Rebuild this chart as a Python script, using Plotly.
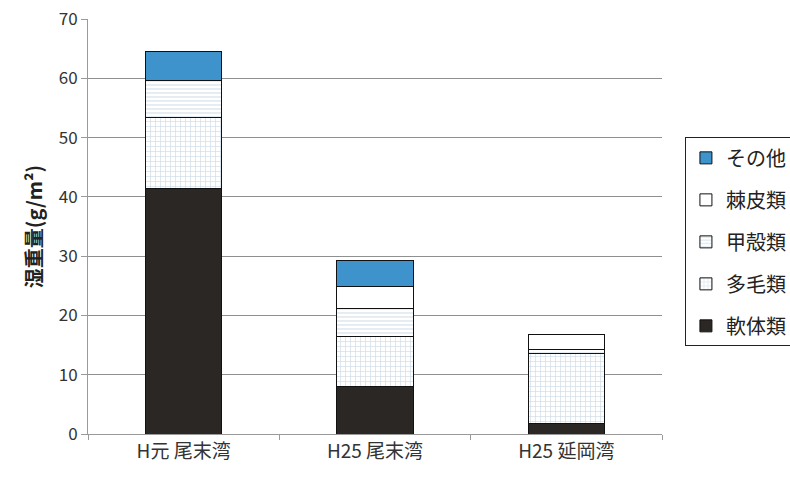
import plotly.graph_objects as go

# Sampling sites
sites = ["H元 尾末湾", "H25 尾末湾", "H25 延岡湾"]

# Wet weight by taxon (g/m²), stacked bottom to top
mollusca = [41.4, 8.0, 1.8]      # 軟体類
polychaeta = [12.0, 8.4, 11.7]   # 多毛類
crustacea = [6.3, 4.8, 0.8]      # 甲殻類
echinoderm = [0.0, 3.6, 2.4]     # 棘皮類
others = [4.9, 4.4, 0.0]         # その他

series = [
    ("軟体類", mollusca, dict(color="#2b2724")),
    ("多毛類", polychaeta, dict(color="white",
                                 pattern=dict(shape="+", fgcolor="#9fb9cf", size=5, solidity=0.25))),
    ("甲殻類", crustacea, dict(color="white",
                                pattern=dict(shape="-", fgcolor="#a9c3d8", size=4, solidity=0.3))),
    ("棘皮類", echinoderm, dict(color="white")),
    ("その他", others, dict(color="#3f93cc")),
]

fig = go.Figure()
n = len(series)
for i, (name, vals, mk) in enumerate(series):
    mk = dict(mk)
    mk["line"] = dict(color="#111111", width=1)
    fig.add_trace(go.Bar(
        x=sites, y=vals, name=name, marker=mk, width=0.4,
        legendgroup=f"g{i}", legendrank=n - i,
    ))

font_family = "Noto Sans CJK JP, Noto Sans, sans-serif"

fig.update_layout(
    barmode="stack",
    width=790, height=478,
    margin=dict(l=88, r=128, t=19, b=44, autoexpand=False),
    paper_bgcolor="white",
    plot_bgcolor="white",
    font=dict(family=font_family, color="#333333", size=16),
    legend=dict(
        xref="container", yref="container",
        x=0.867, y=0.494, xanchor="left", yanchor="middle",
        traceorder="grouped", tracegroupgap=13,
        bordercolor="#222222", borderwidth=1,
        font=dict(size=20, color="#222222"),
        itemwidth=30,
    ),
    xaxis=dict(
        showline=True, linecolor="#9a9a9a", linewidth=1,
        ticks="outside", tickson="boundaries", ticklen=5, tickcolor="#9a9a9a",
        tickfont=dict(size=19, color="#333333"),
    ),
    yaxis=dict(
        range=[0, 70], dtick=10,
        showline=True, linecolor="#9a9a9a", linewidth=1,
        ticks="outside", ticklen=6, tickcolor="#9a9a9a",
        showgrid=True, gridcolor="#8f8f8f", gridwidth=1,
        zeroline=False,
        tickfont=dict(size=17, color="#333333"),
        title=dict(text="<b>湿重量(g/m²)</b>", font=dict(size=20, color="#222222"), standoff=10),
    ),
)

fig.write_html("out.html")
